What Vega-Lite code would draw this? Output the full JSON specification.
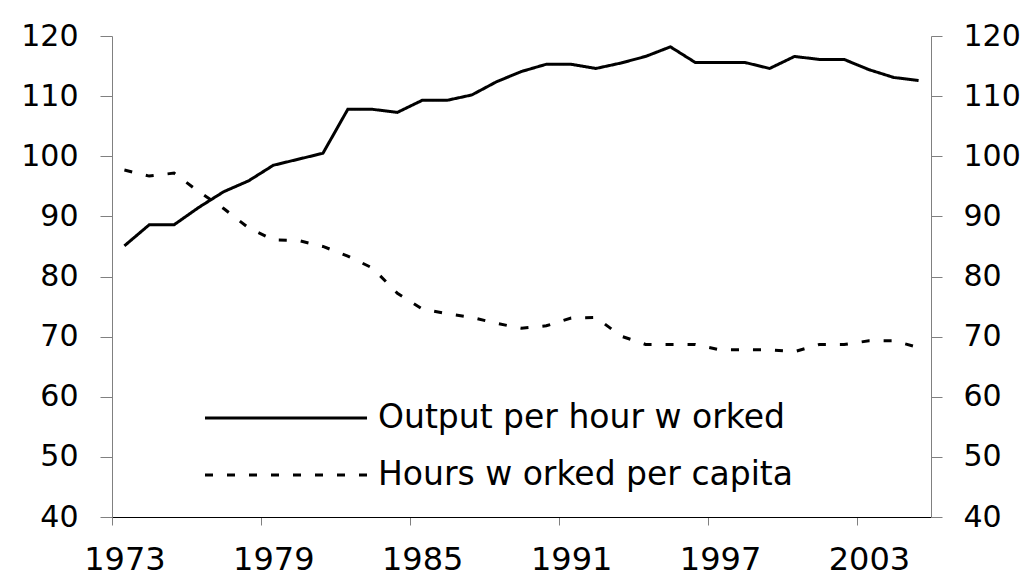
{
  "$schema": "https://vega.github.io/schema/vega-lite/v6.json",
  "width": 819,
  "height": 481,
  "autosize": {"type": "none"},
  "padding": {"left": 112, "top": 36, "right": 104, "bottom": 59},
  "background": "white",
  "config": {
    "view": {"stroke": null},
    "font": "DejaVu Sans",
    "axis": {"grid": false, "title": null, "labelColor": "black"}
  },
  "data": {
    "values": [
      {"year": 1973, "series": "Output per hour w orked", "value": 85.1},
      {"year": 1974, "series": "Output per hour w orked", "value": 88.6},
      {"year": 1975, "series": "Output per hour w orked", "value": 88.6},
      {"year": 1976, "series": "Output per hour w orked", "value": 91.5},
      {"year": 1977, "series": "Output per hour w orked", "value": 94.1},
      {"year": 1978, "series": "Output per hour w orked", "value": 95.9},
      {"year": 1979, "series": "Output per hour w orked", "value": 98.5},
      {"year": 1980, "series": "Output per hour w orked", "value": 99.5},
      {"year": 1981, "series": "Output per hour w orked", "value": 100.5},
      {"year": 1982, "series": "Output per hour w orked", "value": 107.8},
      {"year": 1983, "series": "Output per hour w orked", "value": 107.8},
      {"year": 1984, "series": "Output per hour w orked", "value": 107.3},
      {"year": 1985, "series": "Output per hour w orked", "value": 109.3},
      {"year": 1986, "series": "Output per hour w orked", "value": 109.3},
      {"year": 1987, "series": "Output per hour w orked", "value": 110.2},
      {"year": 1988, "series": "Output per hour w orked", "value": 112.4},
      {"year": 1989, "series": "Output per hour w orked", "value": 114.1},
      {"year": 1990, "series": "Output per hour w orked", "value": 115.3},
      {"year": 1991, "series": "Output per hour w orked", "value": 115.3},
      {"year": 1992, "series": "Output per hour w orked", "value": 114.6},
      {"year": 1993, "series": "Output per hour w orked", "value": 115.5},
      {"year": 1994, "series": "Output per hour w orked", "value": 116.6},
      {"year": 1995, "series": "Output per hour w orked", "value": 118.2},
      {"year": 1996, "series": "Output per hour w orked", "value": 115.6},
      {"year": 1997, "series": "Output per hour w orked", "value": 115.6},
      {"year": 1998, "series": "Output per hour w orked", "value": 115.6},
      {"year": 1999, "series": "Output per hour w orked", "value": 114.6},
      {"year": 2000, "series": "Output per hour w orked", "value": 116.6},
      {"year": 2001, "series": "Output per hour w orked", "value": 116.1},
      {"year": 2002, "series": "Output per hour w orked", "value": 116.1},
      {"year": 2003, "series": "Output per hour w orked", "value": 114.4},
      {"year": 2004, "series": "Output per hour w orked", "value": 113.1},
      {"year": 2005, "series": "Output per hour w orked", "value": 112.6},
      {"year": 1973, "series": "Hours w orked per capita", "value": 97.7},
      {"year": 1974, "series": "Hours w orked per capita", "value": 96.7},
      {"year": 1975, "series": "Hours w orked per capita", "value": 97.2},
      {"year": 1976, "series": "Hours w orked per capita", "value": 94.1},
      {"year": 1977, "series": "Hours w orked per capita", "value": 91.3},
      {"year": 1978, "series": "Hours w orked per capita", "value": 88.1},
      {"year": 1979, "series": "Hours w orked per capita", "value": 86.1},
      {"year": 1980, "series": "Hours w orked per capita", "value": 86.0},
      {"year": 1981, "series": "Hours w orked per capita", "value": 85.0},
      {"year": 1982, "series": "Hours w orked per capita", "value": 83.4},
      {"year": 1983, "series": "Hours w orked per capita", "value": 81.4},
      {"year": 1984, "series": "Hours w orked per capita", "value": 77.2},
      {"year": 1985, "series": "Hours w orked per capita", "value": 74.6},
      {"year": 1986, "series": "Hours w orked per capita", "value": 73.8},
      {"year": 1987, "series": "Hours w orked per capita", "value": 73.2},
      {"year": 1988, "series": "Hours w orked per capita", "value": 72.2},
      {"year": 1989, "series": "Hours w orked per capita", "value": 71.4},
      {"year": 1990, "series": "Hours w orked per capita", "value": 71.8},
      {"year": 1991, "series": "Hours w orked per capita", "value": 73.1},
      {"year": 1992, "series": "Hours w orked per capita", "value": 73.2},
      {"year": 1993, "series": "Hours w orked per capita", "value": 70.1},
      {"year": 1994, "series": "Hours w orked per capita", "value": 68.7},
      {"year": 1995, "series": "Hours w orked per capita", "value": 68.7},
      {"year": 1996, "series": "Hours w orked per capita", "value": 68.7},
      {"year": 1997, "series": "Hours w orked per capita", "value": 67.8},
      {"year": 1998, "series": "Hours w orked per capita", "value": 67.8},
      {"year": 1999, "series": "Hours w orked per capita", "value": 67.8},
      {"year": 2000, "series": "Hours w orked per capita", "value": 67.5},
      {"year": 2001, "series": "Hours w orked per capita", "value": 68.7},
      {"year": 2002, "series": "Hours w orked per capita", "value": 68.7},
      {"year": 2003, "series": "Hours w orked per capita", "value": 69.3},
      {"year": 2004, "series": "Hours w orked per capita", "value": 69.3},
      {"year": 2005, "series": "Hours w orked per capita", "value": 68.2}
    ]
  },
  "layer": [
    {
      "transform": [{"filter": "datum.series === 'Output per hour w orked'"}],
      "mark": {"type": "line", "color": "black", "strokeWidth": 3},
      "encoding": {
        "x": {
          "field": "year", "type": "quantitative",
          "scale": {"domain": [1972.5, 2005.5], "nice": false, "zero": false},
          "axis": {
            "values": [1973, 1979, 1985, 1991, 1997, 2003],
            "format": "d",
            "tickOffset": -12.41,
            "labelOffset": 12.41,
            "tickSize": 8,
            "tickColor": "#808080",
            "domainColor": "black",
            "domainWidth": 1.2,
            "labelFontSize": 32,
            "labelPadding": 19,
            "labelFlush": false,
            "labelOverlap": false
          }
        },
        "y": {
          "field": "value", "type": "quantitative",
          "scale": {"domain": [40, 120], "nice": false, "zero": false},
          "axis": {
            "orient": "left",
            "values": [40, 50, 60, 70, 80, 90, 100, 110, 120],
            "tickSize": 12,
            "tickColor": "#808080",
            "domainColor": "#808080",
            "labelFontSize": 30,
            "labelPadding": 22,
            "labelOverlap": false
          }
        },
        "strokeDash": {
          "field": "series", "type": "nominal",
          "scale": {
            "domain": ["Output per hour w orked", "Hours w orked per capita"],
            "range": [[1, 0], [8, 14]]
          },
          "legend": {
            "orient": "none",
            "legendX": 75,
            "legendY": 364,
            "title": null,
            "symbolType": "M0,0H10",
            "symbolSize": 1050,
            "symbolStrokeWidth": 3,
            "symbolStrokeColor": "black",
            "labelFont": "DejaVu Sans",
            "labelFontSize": 33,
            "labelColor": "black",
            "labelOffset": 155,
            "labelLimit": 0,
            "rowPadding": 22,
            "padding": 0
          }
        }
      }
    },
    {
      "transform": [{"filter": "datum.series === 'Hours w orked per capita'"}],
      "mark": {"type": "line", "color": "black", "strokeWidth": 3},
      "encoding": {
        "x": {"field": "year", "type": "quantitative"},
        "y": {
          "field": "value", "type": "quantitative",
          "scale": {"domain": [40, 120], "nice": false, "zero": false},
          "axis": {
            "orient": "right",
            "values": [40, 50, 60, 70, 80, 90, 100, 110, 120],
            "tickSize": 11,
            "tickColor": "#808080",
            "domainColor": "#808080",
            "labelFontSize": 30,
            "labelPadding": 21,
            "labelOverlap": false
          }
        },
        "strokeDash": {
          "field": "series", "type": "nominal",
          "scale": {
            "domain": ["Output per hour w orked", "Hours w orked per capita"],
            "range": [[1, 0], [8, 14]]
          }
        }
      }
    }
  ],
  "resolve": {"scale": {"y": "independent"}}
}
